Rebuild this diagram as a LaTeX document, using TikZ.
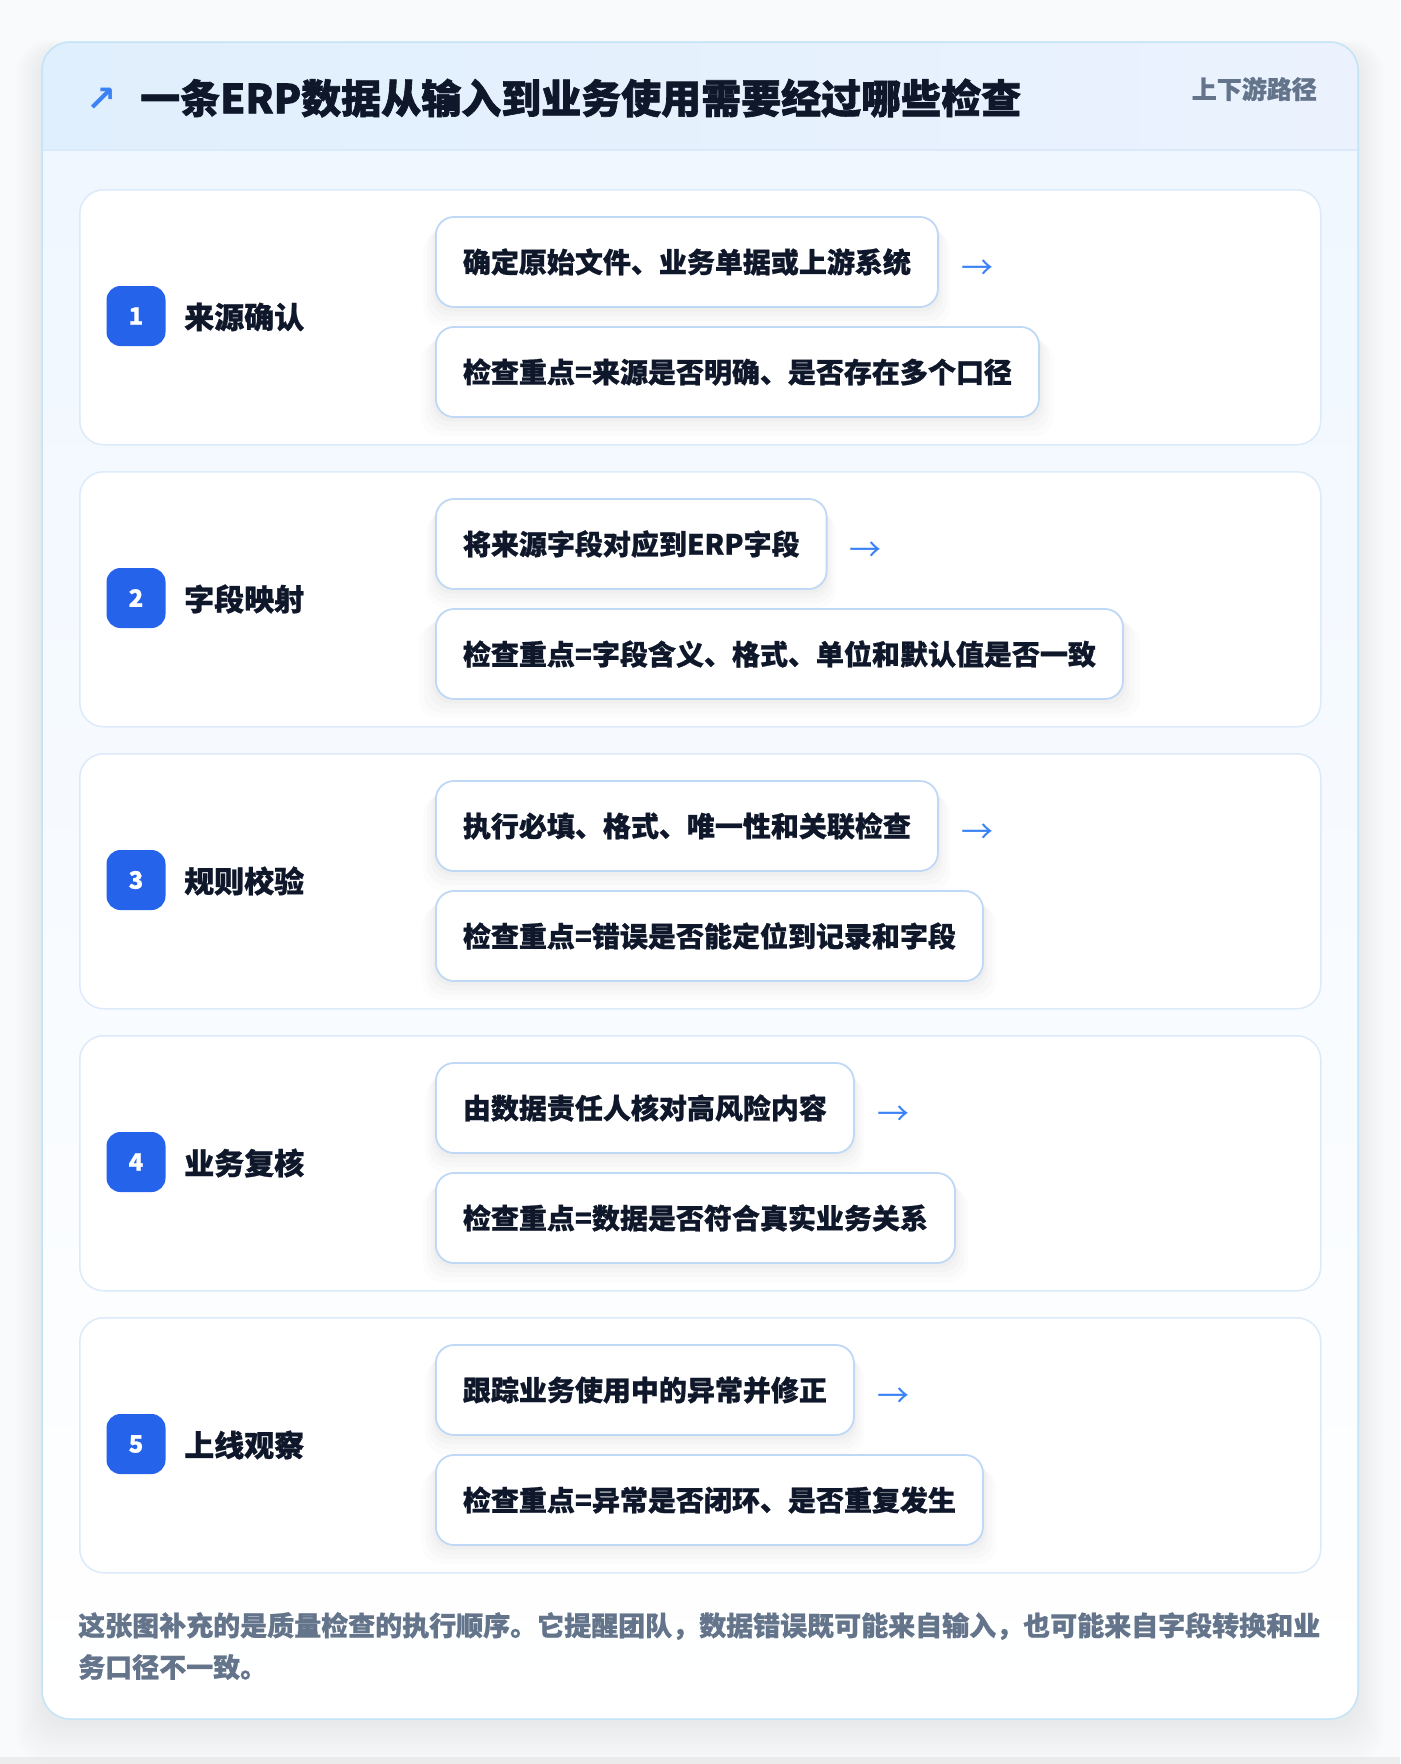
\documentclass[tikz,border=0pt]{standalone}
\usepackage{fontspec}
\setmainfont{Noto Sans CJK SC}[BoldFeatures={FakeBold=0.8}]
\newfontfamily\titlefont{Noto Sans CJK SC}[BoldFeatures={FakeBold=1.6}]
\newfontfamily\symfont{DejaVu Sans}
\usetikzlibrary{shadows,calc}
\definecolor{pagebg}{HTML}{F9FAFB}
\definecolor{outerborder}{HTML}{C3E3F7}
\definecolor{hdrL}{HTML}{E0EFFD}
\definecolor{hdrR}{HTML}{EBF2FE}
\definecolor{hdrline}{HTML}{DBEAFB}
\definecolor{bodyT}{HTML}{F0F7FF}
\definecolor{stepborder}{HTML}{DCEAF9}
\definecolor{boxborder}{HTML}{BFD8F6}
\definecolor{ink}{HTML}{0F172A}
\definecolor{badgeblue}{HTML}{2563EB}
\definecolor{arrowblue}{HTML}{3B82F6}
\definecolor{taggray}{HTML}{64748B}
\definecolor{footgray}{HTML}{64748B}
\tikzset{
  stepcard/.style={draw=stepborder, line width=1.5pt, fill=white, rounded corners=24pt, inner sep=0pt},
  badge/.style={fill=badgeblue, rounded corners=14pt, minimum width=59pt, minimum height=60pt, inner sep=0pt, text=white, font=\bfseries\fontsize{24}{24}\selectfont},
  steplabel/.style={text=ink, inner sep=0pt, font=\bfseries\fontsize{30}{30}\selectfont},
  infobox/.style={draw=boxborder, line width=1.8pt, fill=white, rounded corners=18pt,
    minimum height=90pt, inner xsep=27pt, inner ysep=0pt, text=ink,
    font=\bfseries\fontsize{28}{28}\selectfont,
    general shadow={fill=black, opacity=0.012, shadow yshift=-16pt, shadow scale=1.05},
    general shadow={fill=black, opacity=0.014, shadow yshift=-12pt, shadow scale=1.035},
    general shadow={fill=black, opacity=0.016, shadow yshift=-8pt, shadow scale=1.02},
    general shadow={fill=black, opacity=0.018, shadow yshift=-4pt, shadow scale=1.01}},
  arrowtxt/.style={text=arrowblue, inner sep=0pt, font=\fontsize{32}{32}\selectfont},
  foottxt/.style={text=footgray, inner sep=0pt, font=\bfseries\fontsize{27}{27}\selectfont}
}
\begin{document}
\begin{tikzpicture}[x=1pt,y=-1pt]
\useasboundingbox (0,0) rectangle (1400,1764);
\fill[pagebg] (0,0) rectangle (1400,1764);
\fill[black!7] (0,1757) rectangle (1400,1764);
% outer soft shadow
\foreach \i in {1,...,16}
  \fill[black, opacity=0.005, rounded corners=30pt] (42-\i*1.6, 42-\i*0.6+8) rectangle (1358+\i*1.6, 1719+\i*2.6+4);
% outer card
\begin{scope}
  \clip[rounded corners=28pt] (42,42) rectangle (1358,1719);
  \shade[left color=hdrL, right color=hdrR] (42,42) rectangle (1358,150);
  \shade[top color=bodyT, bottom color=white] (42,150) rectangle (1358,1719);
\end{scope}
\draw[hdrline, line width=1.5pt] (42,150) -- (1358,150);
\draw[outerborder, line width=1.5pt, rounded corners=28pt] (42,42) rectangle (1358,1719);
% header
\node[text=arrowblue, inner sep=0pt, font=\symfont\bfseries\fontsize{36}{36}\selectfont] (icon) at (102,100) {↗};
\node[anchor=west, text=ink, inner sep=0pt, font=\titlefont\bfseries\fontsize{40}{40}\selectfont] (title) at (140,98) {一条ERP数据从输入到业务使用需要经过哪些检查};
\node[anchor=east, text=taggray, inner sep=0pt, font=\bfseries\fontsize{25}{25}\selectfont] (tag) at (1317,89) {上下游路径};
% steps
\foreach \n/\lab/\ta/\tb [evaluate=\n as \T using 189+(\n-1)*282] in {
  1/{来源确认}/{确定原始文件、业务单据或上游系统}/{检查重点=来源是否明确、是否存在多个口径},
  2/{字段映射}/{将来源字段对应到ERP字段}/{检查重点=字段含义、格式、单位和默认值是否一致},
  3/{规则校验}/{执行必填、格式、唯一性和关联检查}/{检查重点=错误是否能定位到记录和字段},
  4/{业务复核}/{由数据责任人核对高风险内容}/{检查重点=数据是否符合真实业务关系},
  5/{上线观察}/{跟踪业务使用中的异常并修正}/{检查重点=异常是否闭环、是否重复发生}}
{
  \node[stepcard, anchor=north west, minimum width=1241pt, minimum height=255pt] (card\n) at (79,\T) {};
  \node[badge] (badge\n) at (136,\T+127) {\n};
  \node[steplabel, anchor=west] (label\n) at (184,\T+128) {\lab};
  \node[infobox, anchor=west] (boxa\n) at (435,\T+73) {\ta};
  \node[infobox, anchor=west] (boxb\n) at (435,\T+183) {\tb};
  \node[arrowtxt, anchor=west] (arr\n) at ($(boxa\n.east)+(22,8)$) {→};
}
% footer
\node[foottxt, anchor=west] (foot1) at (78,1626) {这张图补充的是质量检查的执行顺序。它提醒团队，数据错误既可能来自输入，也可能来自字段转换和业};
\node[foottxt, anchor=west] (foot2) at (78,1667) {务口径不一致。};
\end{tikzpicture}
\end{document}
